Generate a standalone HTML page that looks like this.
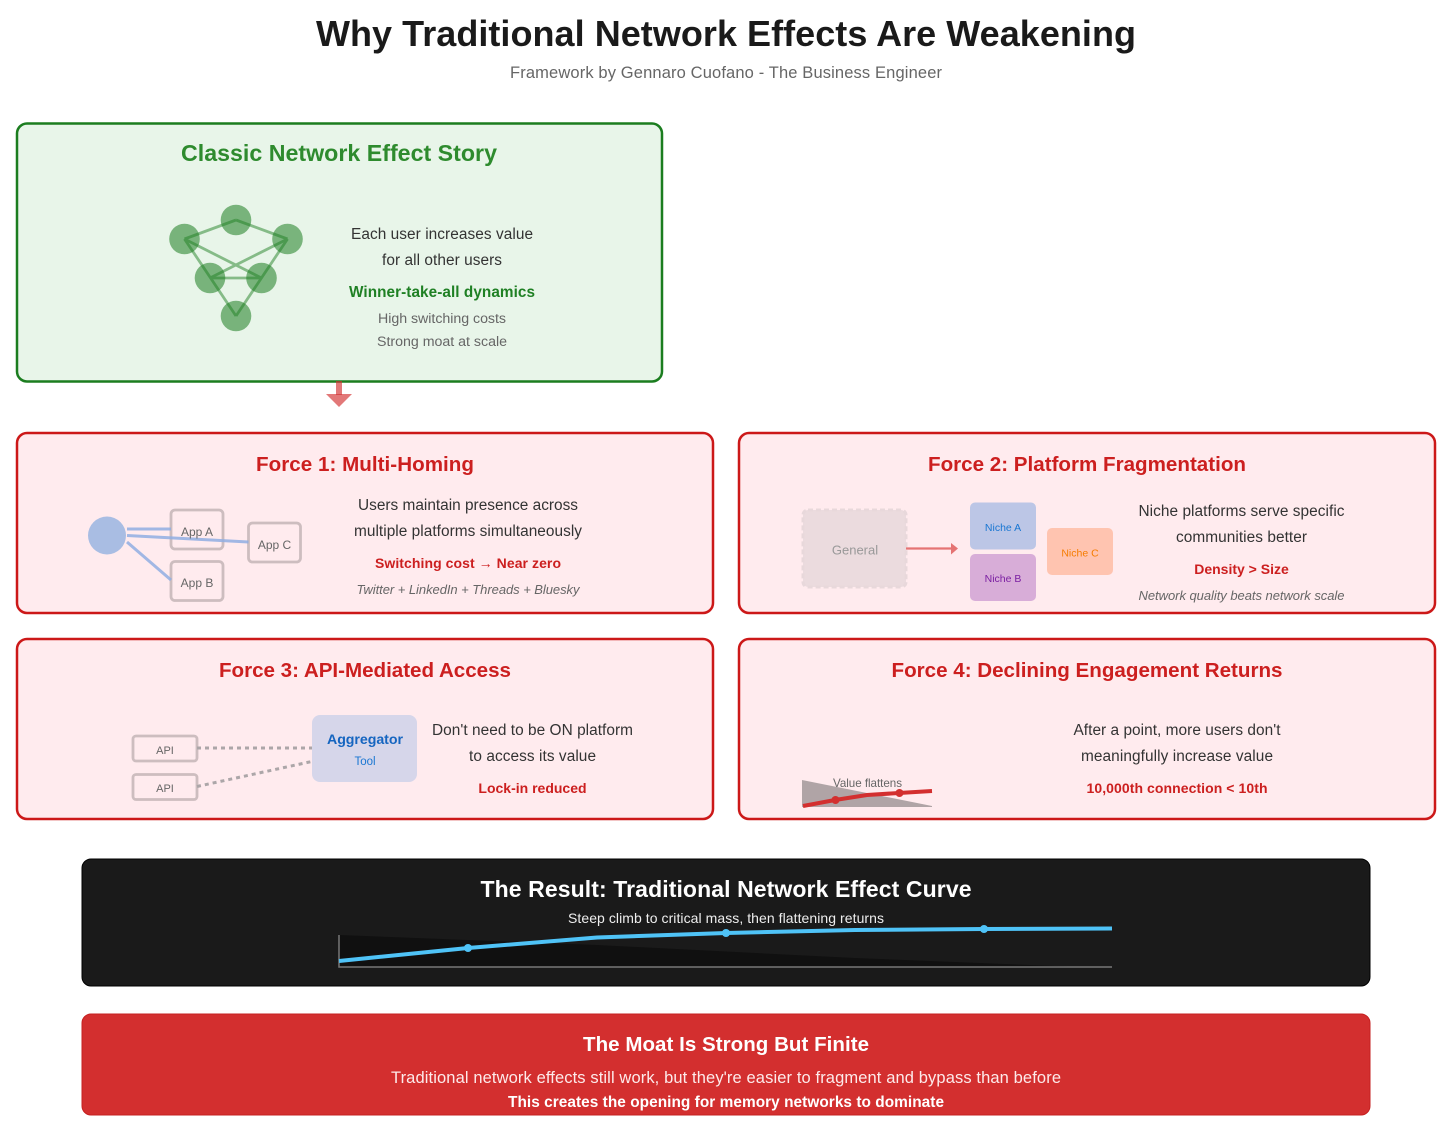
<!DOCTYPE html>
<html><head><meta charset="utf-8"><style>
html,body{margin:0;padding:0;background:#fff}
svg{display:block}
text{font-family:"Liberation Sans",Arial,sans-serif;text-anchor:middle}
.b{font-weight:bold}
</style></head><body>
<svg width="1456" height="1127" viewBox="0 0 1456 1127" xmlns="http://www.w3.org/2000/svg">
<rect width="1456" height="1127" fill="#fff"/>
<text x="726" y="46" font-size="36" textLength="820" class="b" fill="#1a1a1a">Why Traditional Network Effects Are Weakening</text>
<text x="726" y="78" font-size="16.500" textLength="432" fill="#666">Framework by Gennaro Cuofano - The Business Engineer</text>

<!-- Classic -->
<rect x="17" y="123.500" width="645" height="258" rx="10" fill="#e8f5e9" stroke="#1b7d1f" stroke-width="2.500"/>
<text x="339" y="161" font-size="23.200" textLength="316" class="b" fill="#2e8b2e">Classic Network Effect Story</text>
<g fill="#1b7d1f" opacity=".54">
<circle cx="236" cy="220" r="15.300"/><circle cx="184.500" cy="239" r="15.300"/><circle cx="287.500" cy="239" r="15.300"/>
<circle cx="210" cy="278" r="15.300"/><circle cx="261.500" cy="278" r="15.300"/><circle cx="236" cy="316" r="15.300"/>
</g>
<g stroke="#1b7d1f" stroke-width="2.800" opacity=".48" fill="none">
<line x1="184.500" y1="239" x2="236" y2="220"/><line x1="236" y1="220" x2="287.500" y2="239"/>
<line x1="184.500" y1="239" x2="261.500" y2="278"/><line x1="287.500" y1="239" x2="210" y2="278"/>
<line x1="210" y1="278" x2="261.500" y2="278"/><line x1="184.500" y1="239" x2="236" y2="316"/><line x1="287.500" y1="239" x2="236" y2="316"/>
</g>
<text x="442" y="239" font-size="15.400" textLength="182" fill="#333">Each user increases value</text>
<text x="442" y="265" font-size="15.400" textLength="120" fill="#333">for all other users</text>
<text x="442" y="297" font-size="15.300" textLength="186" class="b" fill="#1f8024">Winner-take-all dynamics</text>
<text x="442" y="323" font-size="14.200" textLength="128" fill="#666">High switching costs</text>
<text x="442" y="346" font-size="14.200" textLength="130" fill="#666">Strong moat at scale</text>

<!-- arrow -->
<rect x="336" y="381" width="6" height="14" fill="#d32f2f" opacity=".65"/>
<polygon points="326,394 352,394 339,407" fill="#d32f2f" opacity=".65"/>

<!-- Force 1 -->
<rect x="17" y="433" width="696" height="180" rx="10" fill="#ffebee" stroke="#cc1818" stroke-width="2.500"/>
<text x="365" y="471" font-size="20.600" textLength="218" class="b" fill="#cc1f1f">Force 1: Multi-Homing</text>
<circle cx="107" cy="535.500" r="19" fill="#a9bde3"/>
<g fill="#ffebee" stroke="#cdbdbf" stroke-width="2.800">
<rect x="171" y="510" width="52" height="39" rx="4"/><rect x="171" y="561.500" width="52" height="39" rx="4"/><rect x="248.500" y="523" width="52" height="39" rx="4"/>
</g>
<g stroke="#91aee3" stroke-width="3" opacity=".85">
<line x1="127" y1="529" x2="171" y2="529"/><line x1="127" y1="535.500" x2="248.500" y2="542"/><line x1="127" y1="542" x2="171" y2="580"/>
</g>
<text x="197" y="536" font-size="12" fill="#666">App A</text>
<text x="197" y="587" font-size="12" fill="#666">App B</text>
<text x="274.500" y="549" font-size="12" fill="#666">App C</text>
<text x="468" y="510" font-size="15.400" textLength="220" fill="#333">Users maintain presence across</text>
<text x="468" y="536" font-size="15.400" textLength="228" fill="#333">multiple platforms simultaneously</text>
<text x="468" y="568" font-size="14" textLength="186" class="b" fill="#cc1f1f">Switching cost → Near zero</text>
<text x="468" y="594" font-size="13" textLength="223" font-style="italic" fill="#666">Twitter + LinkedIn + Threads + Bluesky</text>

<!-- Force 2 -->
<rect x="739" y="433" width="696" height="180" rx="10" fill="#ffebee" stroke="#cc1818" stroke-width="2.500"/>
<text x="1087" y="471" font-size="20.600" textLength="318" class="b" fill="#cc1f1f">Force 2: Platform Fragmentation</text>
<rect x="803" y="510" width="103" height="77" rx="5" fill="#ebdbde" stroke="#e8d8db" stroke-width="3" stroke-dasharray="5,3"/>
<text x="855" y="554.500" font-size="13" fill="#999">General</text>
<line x1="906" y1="548.500" x2="953" y2="548.500" stroke="#e57373" stroke-width="2.200"/>
<polygon points="951,543 958,548.500 951,554.500" fill="#e57373"/>
<rect x="970" y="502.500" width="66" height="47" rx="5" fill="#bcc6e6"/>
<rect x="970" y="554" width="66" height="47" rx="5" fill="#d8add8"/>
<rect x="1047" y="528" width="66" height="47" rx="5" fill="#ffc4b0"/>
<text x="1003" y="531" font-size="10.500" fill="#1976d2">Niche A</text>
<text x="1003" y="582" font-size="10.500" fill="#7b1fa2">Niche B</text>
<text x="1080" y="556.500" font-size="10.500" fill="#f57c00">Niche C</text>
<text x="1241.500" y="516" font-size="15.400" textLength="206" fill="#333">Niche platforms serve specific</text>
<text x="1241.500" y="542" font-size="15.400" textLength="131" fill="#333">communities better</text>
<text x="1241.500" y="574" font-size="14" class="b" fill="#cc1f1f">Density &gt; Size</text>
<text x="1241.500" y="600" font-size="13" textLength="206" font-style="italic" fill="#666">Network quality beats network scale</text>

<!-- Force 3 -->
<rect x="17" y="639" width="696" height="180" rx="10" fill="#ffebee" stroke="#cc1818" stroke-width="2.500"/>
<text x="365" y="677" font-size="20.600" textLength="292" class="b" fill="#cc1f1f">Force 3: API-Mediated Access</text>
<g fill="#ffebee" stroke="#cdbdbf" stroke-width="2.800">
<rect x="133" y="736" width="64" height="25" rx="3"/><rect x="133" y="774.500" width="64" height="25" rx="3"/>
</g>
<text x="165" y="754" font-size="11" fill="#666">API</text>
<text x="165" y="792" font-size="11" fill="#666">API</text>
<g stroke="#aca6a8" stroke-width="3" stroke-dasharray="4,4">
<line x1="197" y1="748" x2="312" y2="748"/><line x1="197" y1="786.500" x2="314" y2="761"/>
</g>
<rect x="312" y="715" width="105" height="67" rx="8" fill="#d6d6ea"/>
<text x="365" y="744" font-size="14.200" textLength="76" class="b" fill="#1565c0">Aggregator</text>
<text x="365" y="765" font-size="11.500" fill="#1976d2">Tool</text>
<text x="532.500" y="735" font-size="15.400" textLength="201" fill="#333">Don't need to be ON platform</text>
<text x="532.500" y="761" font-size="15.400" textLength="127" fill="#333">to access its value</text>
<text x="532.500" y="793" font-size="14" class="b" fill="#cc1f1f">Lock-in reduced</text>

<!-- Force 4 -->
<rect x="739" y="639" width="696" height="180" rx="10" fill="#ffebee" stroke="#cc1818" stroke-width="2.500"/>
<text x="1087" y="677" font-size="20.600" textLength="391" class="b" fill="#cc1f1f">Force 4: Declining Engagement Returns</text>
<polygon points="802,780 932,806 802,806" fill="#b0a4a6"/>
<line x1="802" y1="806.500" x2="932" y2="806.500" stroke="#b0a4a6" stroke-width="1"/>
<text x="867.500" y="787" font-size="11.600" textLength="69" fill="#666">Value flattens</text>
<polyline points="803,806 835,800 867,795 899,793 932,791" fill="none" stroke="#d32f2f" stroke-width="4"/>
<circle cx="835.500" cy="800" r="4" fill="#d32f2f"/><circle cx="899.500" cy="793" r="4" fill="#d32f2f"/>
<text x="1177" y="735" font-size="15.400" textLength="207" fill="#333">After a point, more users don't</text>
<text x="1177" y="761" font-size="15.400" textLength="192" fill="#333">meaningfully increase value</text>
<text x="1177" y="793" font-size="14" textLength="181" class="b" fill="#cc1f1f">10,000th connection &lt; 10th</text>

<!-- Result -->
<rect x="82" y="859" width="1288" height="127" rx="9" fill="#1a1a1a" stroke="#000" stroke-width="1"/>
<text x="726" y="897" font-size="23" textLength="491" class="b" fill="#fff">The Result: Traditional Network Effect Curve</text>
<text x="726" y="923" font-size="14" textLength="316" fill="#eee">Steep climb to critical mass, then flattening returns</text>
<polygon points="339,935 597,945 855,958 1080,967 339,967" fill="#101010"/>
<polyline points="339,935 339,967 1112,967" fill="none" stroke="#777" stroke-width="1.500"/>
<polyline points="339,961 468,948 597,937.500 726,933 855,930 984,929 1112,928.500" fill="none" stroke="#4fc3f7" stroke-width="4"/>
<circle cx="468" cy="948" r="4" fill="#4fc3f7"/><circle cx="726" cy="933" r="4" fill="#4fc3f7"/><circle cx="984" cy="929" r="4" fill="#4fc3f7"/>

<!-- Moat -->
<rect x="82" y="1014" width="1288" height="101" rx="9" fill="#d32f2f" stroke="#c62020" stroke-width="1"/>
<text x="726" y="1051" font-size="20.500" textLength="286" class="b" fill="#fff">The Moat Is Strong But Finite</text>
<text x="726" y="1083" font-size="16.500" textLength="670" fill="#fdeaea">Traditional network effects still work, but they're easier to fragment and bypass than before</text>
<text x="726" y="1107" font-size="15.400" textLength="436" class="b" fill="#fff">This creates the opening for memory networks to dominate</text>
</svg>
</body></html>
